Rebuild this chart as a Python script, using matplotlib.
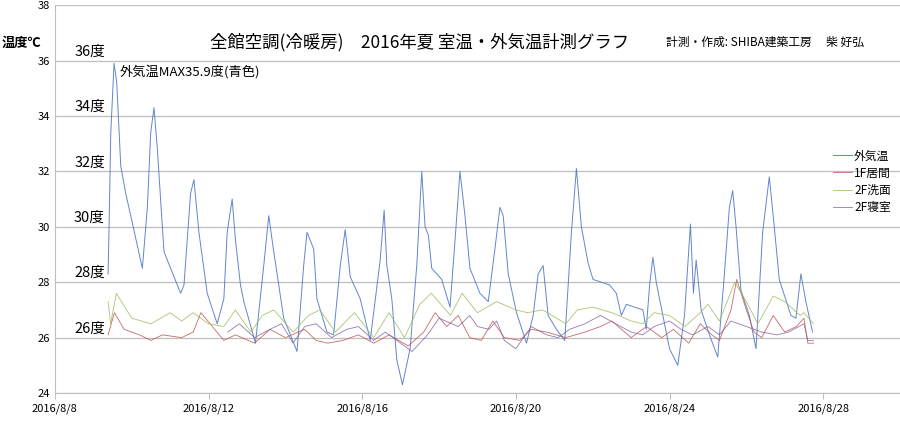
import matplotlib
matplotlib.use("Agg")
import matplotlib.pyplot as plt
import matplotlib.dates as mdates
import numpy as np
import pandas as pd

plt.rcParams["font.family"] = "Noto Sans CJK JP"

start = pd.Timestamp("2016-08-08")
# days since 2016/8/8, temperature
out_d = [1.385,1.41,1.455,1.54,1.61,1.714,1.844,1.974,2.277,2.407,2.494,2.58,2.667,2.84,3.273,3.36,3.532,3.619,3.749,3.965,
         4.225,4.398,4.485,4.615,4.701,4.831,4.918,5.221,5.437,5.567,5.697,5.957,6.303,6.476,6.563,6.736,6.822,7.082,7.255,7.429,
         7.558,7.688,7.948,8.208,8.468,8.571,8.641,8.771,8.9,9.048,9.247,9.42,9.55,9.636,9.723,9.81,10.07,10.286,10.416,10.545,
         10.675,10.805,11.065,11.281,11.455,11.584,11.671,11.801,12.017,12.277,12.45,12.58,12.71,12.84,13.056,13.273,13.446,13.576,13.706,13.879,
         14.009,14.442,14.615,14.745,14.875,15.307,15.394,15.481,15.567,15.654,15.827,16.0,16.216,16.39,16.545,16.623,16.693,16.823,17.039,17.255,
         17.429,17.558,17.645,17.732,17.861,18.078,18.251,18.424,18.597,18.727,18.857,19.16,19.29,19.42,19.55,19.723]
out_t = [28.3,30.0,33.4,35.9,35.2,32.2,31.2,30.4,28.5,30.7,33.4,34.3,32.8,29.1,27.6,27.9,31.2,31.7,29.8,27.6,
         26.5,27.4,29.8,31.0,29.5,27.9,27.3,25.8,28.6,30.4,29.1,26.7,25.5,28.6,29.8,29.2,27.4,26.2,26.1,28.6,
         29.9,28.2,27.4,25.9,28.8,30.6,28.6,27.4,25.2,24.3,25.6,28.6,32.0,30.0,29.7,28.5,28.1,27.1,29.5,32.0,
         30.4,28.5,27.6,27.3,29.2,30.7,30.4,28.3,26.9,25.8,26.8,28.3,28.6,26.8,26.3,25.9,29.8,32.1,30.0,28.7,
         28.1,27.9,27.6,26.8,27.2,27.0,26.3,27.9,28.9,28.0,26.8,25.6,25.0,26.8,30.1,27.6,28.8,27.0,26.1,25.3,
         28.3,30.7,31.3,30.0,27.7,26.8,25.6,29.8,31.8,30.0,28.1,26.8,26.7,28.3,27.3,26.2]

liv_d = [1.385,1.55,1.8,2.2,2.5,2.8,3.3,3.6,3.8,4.1,4.4,4.7,5.2,5.6,6.0,6.5,6.8,7.1,7.5,7.9,8.3,8.7,9.2,9.6,9.9,10.2,10.5,10.8,
         11.1,11.4,11.7,12.1,12.4,12.8,13.3,13.8,14.2,14.5,15.0,15.4,15.8,16.1,16.5,16.8,17.1,17.3,17.6,17.75,18.0,18.2,18.4,18.7,19.0,19.3,19.5,19.6,19.75]
liv_t = [26.1,26.9,26.3,26.1,25.9,26.1,26.0,26.2,26.9,26.4,25.9,26.1,25.8,26.3,26.0,26.3,25.9,25.8,25.9,26.1,25.8,26.1,25.7,26.2,26.9,26.4,26.8,26.0,
         25.9,26.6,26.0,25.9,26.3,26.2,26.0,26.2,26.4,26.6,26.0,26.4,26.0,26.3,25.8,26.5,26.1,25.9,27.0,28.1,27.0,26.2,26.0,26.8,26.2,26.4,26.7,25.8,25.8]

wash_d = [1.385,1.45,1.6,2.0,2.5,3.0,3.3,3.6,4.0,4.4,4.7,5.1,5.4,5.7,6.2,6.6,6.9,7.3,7.8,8.3,8.7,9.1,9.5,9.8,10.3,10.6,11.0,11.5,
          12.0,12.3,12.7,13.3,13.6,14.0,14.5,15.0,15.3,15.6,16.0,16.4,16.8,17.0,17.3,17.7,18.0,18.3,18.7,19.0,19.4,19.5,19.75]
wash_t = [27.3,26.5,27.6,26.7,26.5,26.9,26.6,26.9,26.5,26.4,27.0,26.2,26.8,27.0,26.2,26.8,27.0,26.2,26.9,26.0,26.9,26.0,27.2,27.6,26.8,27.6,26.9,27.3,
          27.0,26.9,27.0,26.5,27.0,27.1,26.9,26.6,26.5,26.9,26.8,26.4,26.9,27.2,26.6,28.0,27.3,26.5,27.5,27.3,26.8,26.9,26.5]

bed_d = [4.5,4.8,5.2,5.6,5.9,6.2,6.5,6.8,7.2,7.6,7.9,8.3,8.6,9.0,9.3,9.7,10.0,10.5,10.8,11.0,11.3,11.5,11.7,12.0,12.4,12.8,13.1,13.4,
         13.8,14.2,14.6,15.0,15.3,15.6,16.0,16.3,16.6,17.0,17.3,17.6,18.0,18.4,18.8,19.1,19.5,19.6,19.75]
bed_t = [26.2,26.5,26.0,26.3,26.5,25.8,26.4,26.5,26.0,26.3,26.4,25.9,26.2,25.8,25.5,26.1,26.7,26.4,26.8,26.4,26.3,26.6,25.9,25.6,26.4,26.1,26.0,26.3,
         26.5,26.8,26.5,26.2,26.1,26.4,26.6,26.3,26.1,26.4,26.1,26.6,26.4,26.2,26.1,26.2,26.5,25.9,25.9]

y_ticks = [24, 26, 28, 30, 32, 34, 36, 38]
x_ticks = ["2016-08-08", "2016-08-12", "2016-08-16", "2016-08-20", "2016-08-24", "2016-08-28"]
inner_labels = [26, 28, 30, 32, 34, 36]

def tt(d):
    return start + pd.to_timedelta(np.array(d), unit="D")

fig = plt.figure(figsize=(9, 4.24), dpi=100)
ax = fig.add_axes([0.061, 0.073, 0.939, 0.915])
ax.plot(tt(out_d), out_t, color="#4472C4", lw=0.7, alpha=0.85, label="外気温")
ax.plot(tt(liv_d), liv_t, color="#C0504D", lw=0.6, alpha=0.85, label="1F居間")
ax.plot(tt(wash_d), wash_t, color="#9BBB59", lw=0.6, alpha=0.85, label="2F洗面")
ax.plot(tt(bed_d), bed_t, color="#8064A2", lw=0.6, alpha=0.85, label="2F寝室")

ax.set_ylim(24, 38)
ax.set_xlim(start, start + pd.Timedelta(days=22))
ax.set_yticks(y_ticks)
ax.set_xticks(pd.to_datetime(x_ticks))
ax.xaxis.set_major_formatter(mdates.DateFormatter("%Y/%-m/%-d"))
ax.tick_params(axis="y", length=0, labelsize=8)
ax.tick_params(axis="x", length=4, labelsize=8, color="#bfbfbf")
ax.grid(axis="y", color="#bfbfbf", lw=0.9)
for s in ["top", "right"]:
    ax.spines[s].set_visible(False)
ax.spines["left"].set_color("#bfbfbf")
ax.spines["bottom"].set_color("#bfbfbf")

for v in inner_labels:
    ax.annotate(f"{v}度", xy=(0, v), xycoords=("axes fraction", "data"), xytext=(50, 2),
                textcoords="offset pixels", ha="right", va="bottom", fontsize=10.5)
ax.annotate("外気温MAX35.9度(青色)", xy=(0, 35.9), xycoords=("axes fraction", "data"), xytext=(65, -8),
            textcoords="offset pixels", ha="left", va="center", fontsize=9.5)

fig.text(0.002, 0.898, "温度℃", fontsize=9.5, fontweight="bold", va="center")
fig.text(0.466, 0.9, "全館空調(冷暖房)　2016年夏 室温・外気温計測グラフ", fontsize=12.5, ha="center", va="center")
fig.text(0.74, 0.9, "計測・作成: SHIBA建築工房　 柴 好弘", fontsize=8.5, ha="left", va="center")

leg = ax.legend(loc="upper left", bbox_to_anchor=(0.915, 0.64), frameon=False, fontsize=8.5,
                handlelength=1.6, handletextpad=0.2, labelspacing=0.35, borderaxespad=0)

fig.savefig("out.png", dpi=100)
